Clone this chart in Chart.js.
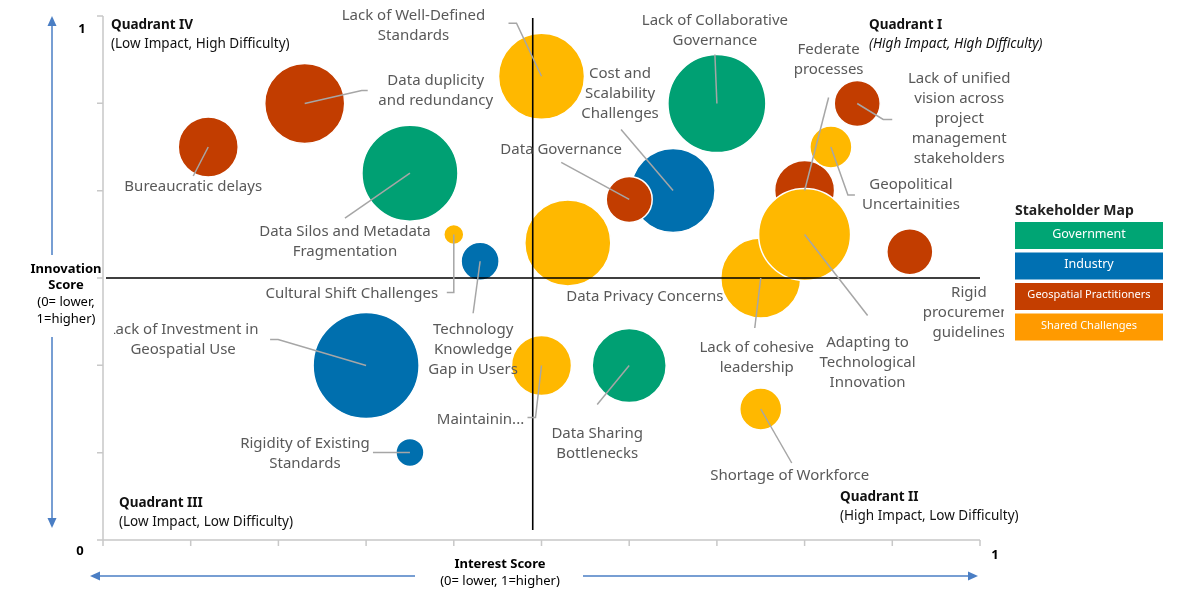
<!DOCTYPE html>
<html>
<head>
<meta charset="utf-8">
<script src="https://cdn.jsdelivr.net/npm/chart.js@4.4.1/dist/chart.umd.min.js"></script>
<style>
  html, body { margin: 0; padding: 0; background: #fff; }
  #wrap { width: 1200px; height: 600px; }
</style>
</head>
<body>
<div id="wrap"><canvas id="chart" width="1200" height="600"></canvas></div>
<script>
// challenges, in drawing order (later ones sit on top)
const challenges = [
  'Bureaucratic delays',
  'Data duplicity and redundancy',
  'Data Silos and Metadata Fragmentation',
  'Lack of Well-Defined Standards',
  'Lack of Collaborative Governance',
  'Cost and Scalability Challenges',
  'Data Governance',
  'Data Privacy Concerns',
  'Cultural Shift Challenges',
  'Technology Knowledge Gap in Users',
  'Federate processes',
  'Lack of unified vision across project management stakeholders',
  'Geopolitical Uncertainities',
  'Rigid procurement guidelines',
  'Lack of cohesive leadership',
  'Adapting to Technological Innovation',
  'Lack of Investment in Geospatial Use',
  'Rigidity of Existing Standards',
  'Maintainin...',
  'Data Sharing Bottlenecks',
  'Shortage of Workforce'
];
const stakeholder = [
  'Geospatial Practitioners', 'Geospatial Practitioners', 'Government', 'Shared Challenges',
  'Government', 'Industry', 'Geospatial Practitioners', 'Shared Challenges',
  'Shared Challenges', 'Industry', 'Geospatial Practitioners', 'Geospatial Practitioners',
  'Shared Challenges', 'Geospatial Practitioners', 'Shared Challenges', 'Shared Challenges',
  'Industry', 'Industry', 'Shared Challenges', 'Government', 'Shared Challenges'
];
const interestScore = [0.12, 0.23, 0.35, 0.50, 0.70, 0.65, 0.60, 0.53, 0.40, 0.43, 0.80,
                       0.86, 0.83, 0.92, 0.75, 0.80, 0.30, 0.35, 0.50, 0.60, 0.75];
const innovationScore = [0.75, 0.833, 0.70, 0.885, 0.833, 0.667, 0.65, 0.567, 0.583, 0.532, 0.667,
                         0.833, 0.75, 0.55, 0.50, 0.583, 0.333, 0.167, 0.333, 0.333, 0.25];
const bubbleSize = [30, 40, 48, 43, 49, 42, 23, 43, 10, 19, 30,
                    23, 21, 23, 40, 46, 53, 14, 30, 37, 21];

const groups = ['Government', 'Industry', 'Geospatial Practitioners', 'Shared Challenges'];
const xTicks = [0, 0.1, 0.2, 0.3, 0.4, 0.5, 0.6, 0.7, 0.8, 0.9, 1];
const yTicks = [0, 1/6, 2/6, 3/6, 4/6, 5/6, 1];

const bubbleColor = {
  'Government': '#00A073',
  'Industry': '#006FAE',
  'Geospatial Practitioners': '#C23D00',
  'Shared Challenges': '#FFB800'
};
const legendColor = {
  'Government': '#00A574',
  'Industry': '#0070B2',
  'Geospatial Practitioners': '#C43E00',
  'Shared Challenges': '#FF9A00'
};

// label text lines, label offset and leader path (pixels from bubble centre)
const labelLines = [
  ['Bureaucratic delays'],
  ['Data duplicity', 'and redundancy'],
  ['Data Silos and Metadata', 'Fragmentation'],
  ['Lack of Well-Defined', 'Standards'],
  ['Lack of Collaborative', 'Governance'],
  ['Cost and', 'Scalability', 'Challenges'],
  ['Data Governance'],
  ['Data Privacy Concerns'],
  ['Cultural Shift Challenges'],
  ['Technology', 'Knowledge', 'Gap in Users'],
  ['Federate', 'processes'],
  ['Lack of unified', 'vision across', 'project', 'management', 'stakeholders'],
  ['Geopolitical', 'Uncertainities'],
  ['Rigid', 'procurement', 'guidelines'],
  ['Lack of cohesive', 'leadership'],
  ['Adapting to', 'Technological', 'Innovation'],
  ['Lack of Investment in', 'Geospatial Use'],
  ['Rigidity of Existing', 'Standards'],
  ['Maintainin...'],
  ['Data Sharing', 'Bottlenecks'],
  ['Shortage of Workforce']
];
const labelOffset = [
  [-15, 40], [131, -23], [-65, 59], [-128, -61], [-2, -83], [-53, -117], [-68, -50],
  [77, 54], [-102, 59], [-7, 69], [24, -141], [102, -25], [80, 38], [59, 41],
  [-4, 70], [63, 108], [-183, -36], [-105, -9], [-61, 54], [-32, 68], [29, 67]
];
const leaderPath = [
  [[-15, 29]], [[57, -13], [63, -13]], [[-65, 45]], [[-25, -53], [-33, -53]],
  [[-2, -49]], [[-52, -61]], [[-68, -37]], [], [[0, 58], [-7, 58]], [[-7, 52]],
  [[24, -93]], [[26, 16], [35, 16]], [[17, 48], [24, 48]], [],
  [[-6, 50]], [[63, 81]], [[-88, -26], [-96, -26]], [[-37, 0]],
  [[-6, 52], [-14, 52]], [[-32, 39]], [[31, 54]]
];
// text boxes that are cut off in the original: [left, right] limits in px
const labelClip = { 13: [0, 1004], 16: [114, 1200] };

const FONT = '"Noto Sans", "DejaVu Sans", sans-serif';

const decorations = {
  id: 'decorations',
  beforeDatasetsDraw(chart) {
    const { ctx, chartArea: a, scales: { x, y } } = chart;
    ctx.save();
    // grey axes with tick marks
    ctx.strokeStyle = '#C8C8C8';
    ctx.lineWidth = 1.5;
    ctx.beginPath();
    ctx.moveTo(a.left, a.top); ctx.lineTo(a.left, a.bottom); ctx.lineTo(a.right, a.bottom);
    xTicks.forEach(v => { const px = x.getPixelForValue(v); ctx.moveTo(px, a.bottom); ctx.lineTo(px, a.bottom + 6); });
    yTicks.forEach(v => { const py = y.getPixelForValue(v); ctx.moveTo(a.left - 6, py); ctx.lineTo(a.left, py); });
    ctx.stroke();

    // tick values
    ctx.fillStyle = '#000';
    ctx.font = 'bold 13px ' + FONT;
    ctx.textAlign = 'center';
    ctx.textBaseline = 'middle';
    ctx.fillText('1', a.left - 21, y.getPixelForValue(1) + 13);
    ctx.fillText('0', a.left - 23, a.bottom + 11);
    ctx.fillText('1', a.right + 15, a.bottom + 15);

    // axis titles
    ctx.fillText('Innovation', 66, 269);
    ctx.fillText('Score', 66, 285);
    ctx.fillText('Interest Score', 500, 564);
    ctx.font = '13px ' + FONT;
    ctx.fillText('(0= lower,', 66, 302);
    ctx.fillText('1=higher)', 66, 319);
    ctx.fillText('(0= lower, 1=higher)', 500, 581);

    // blue direction arrows
    ctx.strokeStyle = '#4A7EC4';
    ctx.fillStyle = '#4A7EC4';
    ctx.lineWidth = 1.5;
    const arrow = (x1, y1, x2, y2) => {
      ctx.beginPath(); ctx.moveTo(x1, y1); ctx.lineTo(x2, y2); ctx.stroke();
      const ang = Math.atan2(y2 - y1, x2 - x1);
      ctx.beginPath();
      ctx.moveTo(x2 + 4 * Math.cos(ang), y2 + 4 * Math.sin(ang));
      ctx.lineTo(x2 - 6 * Math.cos(ang) + 4.5 * Math.sin(ang), y2 - 6 * Math.sin(ang) - 4.5 * Math.cos(ang));
      ctx.lineTo(x2 - 6 * Math.cos(ang) - 4.5 * Math.sin(ang), y2 - 6 * Math.sin(ang) + 4.5 * Math.cos(ang));
      ctx.closePath(); ctx.fill();
    };
    arrow(52, 255, 52, 20);
    arrow(52, 337, 52, 524);
    arrow(415, 576, 94, 576);
    arrow(583, 576, 974, 576);

    // quadrant captions
    ctx.textAlign = 'left';
    ctx.fillStyle = '#111';
    const quad = (t1, t2, px, py, italic) => {
      ctx.font = 'bold 13.5px ' + FONT; ctx.fillText(t1, px, py);
      ctx.font = (italic ? 'italic ' : '') + '13.5px ' + FONT; ctx.fillText(t2, px, py + 19);
    };
    quad('Quadrant IV', '(Low Impact, High Difficulty)', 111, 25, false);
    quad('Quadrant I', '(High Impact, High Difficulty)', 869, 25, true);
    quad('Quadrant III', '(Low Impact, Low Difficulty)', 119, 503, false);
    quad('Quadrant II', '(High Impact, Low Difficulty)', 840, 497, false);

    // stakeholder legend
    ctx.font = 'bold 14px ' + FONT;
    ctx.fillStyle = '#222';
    ctx.fillText('Stakeholder Map', 1015, 211);
    groups.forEach((g, i) => {
      const top = 222 + i * 30.5;
      ctx.fillStyle = legendColor[g];
      ctx.fillRect(1015, top, 148, 27);
      ctx.fillStyle = '#fff';
      ctx.textAlign = 'center';
      ctx.font = (i < 2 ? '12.5px ' : '11px ') + FONT;
      ctx.fillText(g, 1089, top + 12);
      ctx.textAlign = 'left';
    });
    ctx.restore();
  },
  afterDatasetsDraw(chart) {
    const { ctx, chartArea: a, scales: { x, y } } = chart;
    ctx.save();
    // quadrant dividers
    ctx.strokeStyle = '#000';
    ctx.lineWidth = 1.6;
    ctx.beginPath();
    ctx.moveTo(a.left + 3, y.getPixelForValue(0.5)); ctx.lineTo(a.right, y.getPixelForValue(0.5));
    ctx.moveTo(x.getPixelForValue(0.49), a.top + 2); ctx.lineTo(x.getPixelForValue(0.49), a.bottom - 10);
    ctx.stroke();

    // leader lines and labels
    const meta = chart.getDatasetMeta(0);
    ctx.font = '15px ' + FONT;
    ctx.textAlign = 'center';
    ctx.textBaseline = 'middle';
    meta.data.forEach((pt, i) => {
      const cx = pt.x, cy = pt.y;
      const path = leaderPath[i];
      if (path.length) {
        ctx.strokeStyle = '#A6A6A6';
        ctx.lineWidth = 1.5;
        ctx.beginPath();
        ctx.moveTo(cx, cy);
        path.forEach(p => ctx.lineTo(cx + p[0], cy + p[1]));
        ctx.stroke();
      }
      ctx.save();
      if (labelClip[i]) {
        ctx.beginPath();
        ctx.rect(labelClip[i][0], 0, labelClip[i][1] - labelClip[i][0], 600);
        ctx.clip();
      }
      ctx.fillStyle = '#595959';
      labelLines[i].forEach((line, k) => {
        ctx.fillText(line, cx + labelOffset[i][0], cy + labelOffset[i][1] + k * 20);
      });
      ctx.restore();
    });
    ctx.restore();
  }
};

new Chart(document.getElementById('chart'), {
  type: 'bubble',
  data: {
    labels: challenges,
    datasets: [{
      label: 'Challenges',
      data: challenges.map((c, i) => ({ x: interestScore[i], y: innovationScore[i], r: bubbleSize[i] })),
      backgroundColor: stakeholder.map(s => bubbleColor[s]),
      borderColor: '#ffffff',
      borderWidth: 1.5,
      hoverRadius: 0
    }]
  },
  options: {
    responsive: false,
    animation: false,
    layout: { autoPadding: false, padding: { left: 103, right: 220, top: 16, bottom: 60 } },
    scales: {
      x: { type: 'linear', min: 0, max: 1, display: false },
      y: { type: 'linear', min: 0, max: 1, display: false }
    },
    plugins: { legend: { display: false }, tooltip: { enabled: false } }
  },
  plugins: [decorations]
});
</script>
</body>
</html>
